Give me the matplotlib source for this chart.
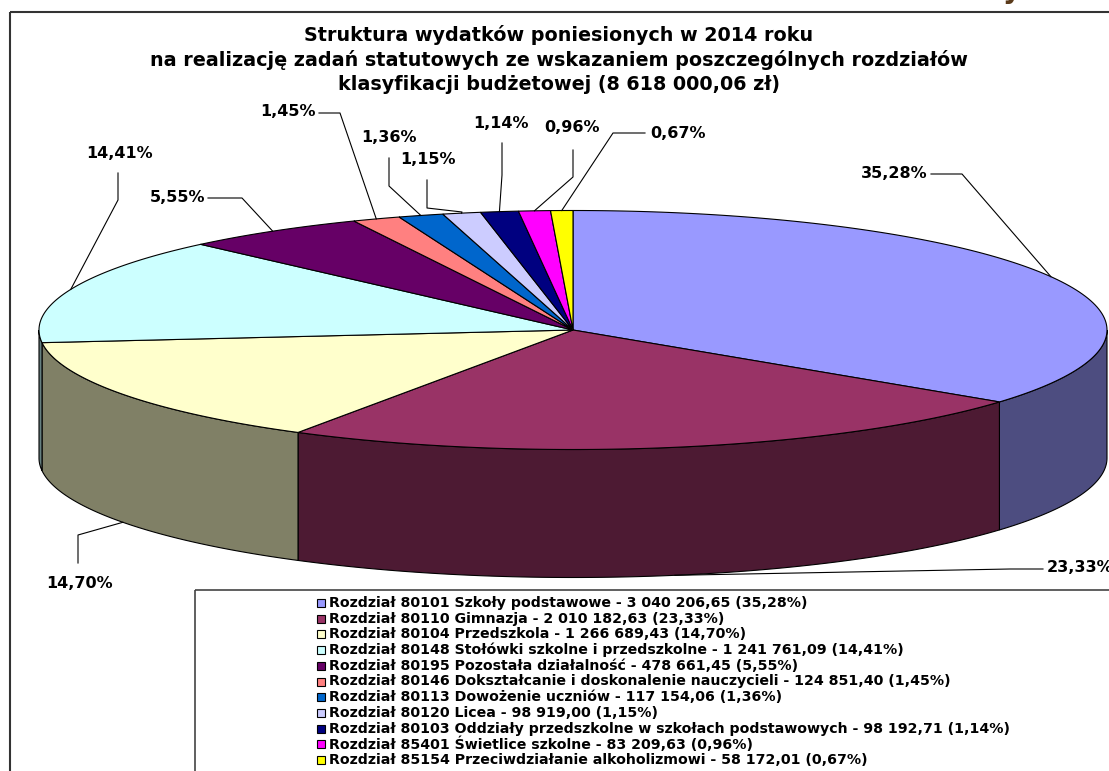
import numpy as np
import matplotlib
matplotlib.use("Agg")
import matplotlib.pyplot as plt
from matplotlib.patches import Polygon, Rectangle
from matplotlib.colors import to_rgb

# --- data ---
title_lines = ["Struktura wydatków poniesionych w 2014 roku",
               "na realizację zadań statutowych ze wskazaniem poszczególnych rozdziałów",
               "klasyfikacji budżetowej (8 618 000,06 zł)"]
codes = ["80101", "80110", "80104", "80148", "80195", "80146",
         "80113", "80120", "80103", "85401", "85154"]
names = ["Szkoły podstawowe", "Gimnazja", "Przedszkola",
         "Stołówki szkolne i przedszkolne", "Pozostała działalność",
         "Dokształcanie i doskonalenie nauczycieli", "Dowożenie uczniów",
         "Licea", "Oddziały przedszkolne w szkołach podstawowych",
         "Świetlice szkolne", "Przeciwdziałanie alkoholizmowi"]
amounts = [3040206.65, 2010182.63, 1266689.43, 1241761.09, 478661.45,
           124851.40, 117154.06, 98919.00, 98192.71, 83209.63, 58172.01]
shares = [35.28, 23.33, 14.70, 14.41, 5.55, 1.45, 1.36, 1.15, 1.14, 0.96, 0.67]
colors = ["#9999FF", "#993366", "#FFFFCC", "#CCFFFF", "#660066", "#FF8080",
          "#0066CC", "#CCCCFF", "#000080", "#FF00FF", "#FFFF00"]

# label text position (x, y, ha) and leader bend points, in pixels
label_pos = [(927, 173, "right"), (1047, 568, "left"), (80, 583, "center"),
             (119, 153, "center"), (205, 197, "right"), (316, 112, "right"),
             (389, 138, "center"), (428, 160, "center"), (501, 123, "center"),
             (572, 128, "center"), (650, 133, "left")]
leader_bends = [[(931, 174), (962, 174)], [(1043, 569), (1010, 569)],
                [(78, 563), (78, 535)], [(118, 173), (118, 200)],
                [(208, 198), (242, 198)], [(319, 113), (340, 113)],
                [(389, 158), (389, 186)], [(427, 180), (427, 208), (462, 212)],
                [(502, 143), (502, 175)], [(573, 150), (573, 177)],
                [(645, 133), (613, 133)]]


def fmt_amount(v):
    return f"{v:,.2f}".replace(",", " ").replace(".", ",")


def fmt_pct(p):
    return f"{p:.2f}%".replace(".", ",")


W, H = 1109, 771
fig = plt.figure(figsize=(W / 100, H / 100), dpi=100)
ax = fig.add_axes([0, 0, 1, 1])
ax.set_xlim(0, W)
ax.set_ylim(H, 0)
ax.axis("off")

# chart frame
ax.add_patch(Rectangle((10, 12), 1200, 900, fill=False, edgecolor="#333333", lw=1.5))
ax.text(1012, 4, "y", color="#5a3a1a", fontsize=20, fontweight="bold", ha="center", va="bottom")

for i, line in enumerate(title_lines):
    ax.text(559, 35 + 25 * i, line, ha="center", va="center",
            fontsize=13.8, fontweight="bold", family="DejaVu Sans")

# 3D pie geometry
cx, cy, a, b, depth = 573, 330, 534, 119.5, 128


def pt(theta, dz=0.0):
    t = np.radians(theta)
    return cx + a * np.sin(t), cy - b * np.cos(t) + dz


fr = np.array(shares) / sum(shares)
edges = np.concatenate([[0], np.cumsum(fr)]) * 360

# side walls (front half only)
for i in range(len(shares)):
    s, e = max(edges[i], 90), min(edges[i + 1], 270)
    if e <= s:
        continue
    th = np.linspace(s, e, 80)
    xt, yt = pt(th)
    xb, yb = pt(th[::-1], depth)
    side = tuple(0.5 * c for c in to_rgb(colors[i]))
    ax.add_patch(Polygon(np.column_stack([np.r_[xt, xb], np.r_[yt, yb]]),
                         closed=True, facecolor=side, edgecolor="black", lw=0.8))

# top wedges
for i in range(len(shares)):
    th = np.linspace(edges[i], edges[i + 1], 120)
    xt, yt = pt(th)
    ax.add_patch(Polygon(np.column_stack([np.r_[cx, xt], np.r_[cy, yt]]),
                         closed=True, facecolor=colors[i], edgecolor="black", lw=0.8))

# data labels with leader lines
for i, p in enumerate(shares):
    mid = (edges[i] + edges[i + 1]) / 2
    front = 90 < mid < 270
    ax_, ay_ = pt(mid, depth if front else 0)
    pts = leader_bends[i] + [(ax_, ay_)]
    ax.plot([q[0] for q in pts], [q[1] for q in pts], color="black", lw=0.8)
    x, y, ha = label_pos[i]
    ax.text(x, y, fmt_pct(p), ha=ha, va="center", fontsize=11.5, fontweight="bold")

# legend
ax.add_patch(Rectangle((195, 590), 1000, 300, fill=False, edgecolor="#444444", lw=1.2))
for i in range(len(shares)):
    y = 603 + 15.7 * i
    ax.add_patch(Rectangle((317, y - 4), 8, 8, facecolor=colors[i], edgecolor="black", lw=0.8))
    label = f"Rozdział {codes[i]} {names[i]} - {fmt_amount(amounts[i])} ({fmt_pct(shares[i])})"
    ax.text(329, y, label, ha="left", va="center", fontsize=10.2, fontweight="bold")

fig.savefig("out.png", dpi=100)
